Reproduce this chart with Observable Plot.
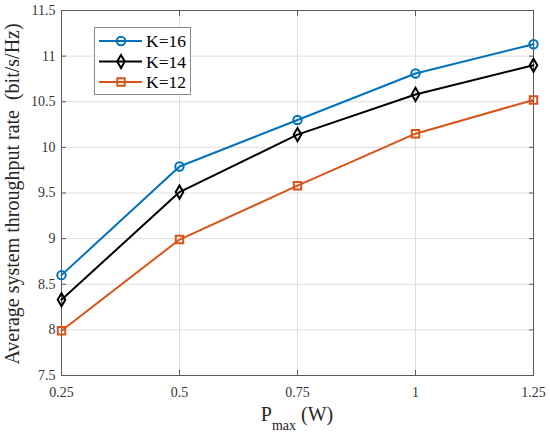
<!DOCTYPE html>
<html><head><meta charset="utf-8">
<script src="https://cdn.jsdelivr.net/npm/d3@7"></script>
<script src="https://cdn.jsdelivr.net/npm/@observablehq/plot@0.6"></script>
<style>
body{margin:0;background:#fff}
#wrap{position:relative;width:550px;height:436px;font-family:"Liberation Serif","Times New Roman",serif}
</style>
</head><body><div id="wrap"></div>
<script>
const pmax = [0.25, 0.5, 0.75, 1, 1.25];
const k16 = [8.60, 9.79, 10.30, 10.81, 11.13];
const k14 = [8.33, 9.51, 10.14, 10.58, 10.90];
const k12 = [7.99, 8.99, 9.58, 10.15, 10.52];
const seriesNames = ["K=16", "K=14", "K=12"];
const seriesColors = ["#0072BD", "#000000", "#D95319"];
const seriesSymbols = ["circle", "diamond", "square"];
const seriesR = [4.2, 4.0, 4.2];
const xTicks = [0.25, 0.5, 0.75, 1, 1.25];
const xTickLabels = ["0.25", "0.5", "0.75", "1", "1.25"];
const yTicks = [7.5, 8, 8.5, 9, 9.5, 10, 10.5, 11, 11.5];
const yTickLabels = ["7.5", "8", "8.5", "9", "9.5", "10", "10.5", "11", "11.5"];

const seriesValues = [k16, k14, k12];
const rows = [];
seriesNames.forEach((name, i) => {
  pmax.forEach((p, j) => rows.push({series: name, p, v: seriesValues[i][j]}));
});

const axisColor = "#5a5a5a";
const font = "Liberation Serif";
const marks = [
  Plot.gridX(xTicks, {stroke: "#dedede", strokeOpacity: 1}),
  Plot.gridY(yTicks, {stroke: "#dedede", strokeOpacity: 1}),
  Plot.frame({stroke: axisColor}),
  Plot.axisX(xTicks, {anchor: "bottom", tickSize: -5, tickPadding: 17, stroke: axisColor, fill: "#333",
    tickFormat: d => xTickLabels[xTicks.indexOf(d)], fontSize: 14, fontFamily: font, label: null}),
  Plot.axisX(xTicks, {anchor: "top", tickSize: -5, text: null, stroke: axisColor, label: null}),
  Plot.axisY(yTicks, {anchor: "left", tickSize: -5, tickPadding: 11, stroke: axisColor, fill: "#333",
    tickFormat: d => yTickLabels[yTicks.indexOf(d)], fontSize: 14, fontFamily: font, label: null}),
  Plot.axisY(yTicks, {anchor: "right", tickSize: -5, text: null, stroke: axisColor, label: null})
];
seriesNames.forEach((name, i) => {
  const data = rows.filter(d => d.series === name);
  marks.push(Plot.line(data, {x: "p", y: "v", stroke: seriesColors[i], strokeWidth: 2}));
  marks.push(Plot.dot(data, {x: "p", y: "v", stroke: seriesColors[i], fill: "none", strokeWidth: 2,
    symbol: () => seriesSymbols[i], r: seriesR[i]}));
});

const chart = Plot.plot({
  width: 550, height: 436,
  marginLeft: 61, marginRight: 17, marginTop: 10, marginBottom: 61,
  style: {fontFamily: font, background: "#fff"},
  x: {domain: [0.25, 1.25]},
  y: {domain: [7.5, 11.5]},
  symbol: {type: "identity"},
  marks
});
document.getElementById("wrap").appendChild(chart);

// axis labels
const svg = d3.select(chart);
const xl = svg.append("text").attr("x", 297).attr("y", 421).attr("text-anchor", "middle")
  .attr("font-family", font).attr("font-size", 20).attr("fill", "#262626");
xl.append("tspan").text("P");
xl.append("tspan").attr("font-size", 14).attr("dy", 9).text("max");
xl.append("tspan").attr("dy", -9).text(" (W)");
svg.append("text").attr("transform", "translate(19,194) rotate(-90)").attr("text-anchor", "middle")
  .attr("font-family", font).attr("font-size", 20).attr("fill", "#262626")
  .attr("xml:space", "preserve").style("white-space", "pre")
  .text("Average system throughput rate  (bit/s/Hz)");

// legend
const leg = svg.append("g").attr("text-anchor", "start");
leg.append("rect").attr("x", 94.5).attr("y", 27.5).attr("width", 96).attr("height", 67)
  .attr("fill", "#fff").attr("stroke", "#8a8a8a").attr("stroke-width", 1);
seriesNames.forEach((name, i) => {
  const y = 41 + i * 20.5;
  const g = leg.append("g");
  g.append("line").attr("x1", 99).attr("x2", 142).attr("y1", y).attr("y2", y)
    .attr("stroke", seriesColors[i]).attr("stroke-width", 2);
  const sym = {circle: d3.symbolCircle, diamond: d3.symbolDiamond, square: d3.symbolSquare}[seriesSymbols[i]];
  g.append("path").attr("transform", `translate(121,${y})`)
    .attr("d", d3.symbol(sym, Math.PI * seriesR[i] * seriesR[i])())
    .attr("fill", "none").attr("stroke", seriesColors[i]).attr("stroke-width", 2);
  g.append("text").attr("x", 146).attr("y", y).attr("dy", "0.35em").attr("text-anchor", "start")
    .attr("font-family", font).attr("font-size", 17.5).attr("fill", "#000").text(name);
});
</script>
</body></html>
